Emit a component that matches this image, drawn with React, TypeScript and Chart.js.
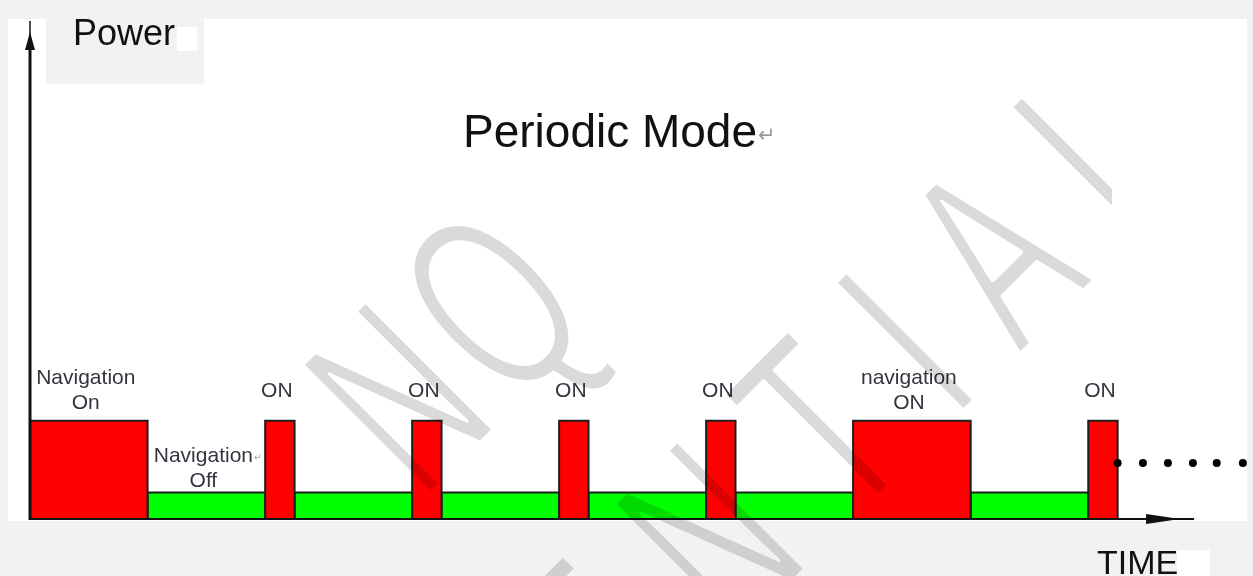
import React, { useEffect, useRef } from "react";
import { Chart, registerables } from "chart.js";

Chart.register(...registerables);

// ---- data ----
const segmentStates = ["on", "off", "on", "off", "on", "off", "on", "off", "on", "off", "on", "off", "on"];
const segmentDurations = [4, 4, 1, 4, 1, 4, 1, 4, 1, 4, 4, 4, 1];
const segmentLabels = [
  ["Navigation", "On"],
  ["Navigation↵", "Off"],
  ["ON"],
  [],
  ["ON"],
  [],
  ["ON"],
  [],
  ["ON"],
  [],
  ["navigation", "ON"],
  [],
  ["ON"],
];
const stateNames = ["on", "off"];
const statePower = [19.7, 5.3];
const stateColors = ["#ff0000", "#00ff00"];
const dotTimes = [37.0, 37.86, 38.71, 39.56, 40.37, 41.26];
const dotPower = [11.2, 11.2, 11.2, 11.2, 11.2, 11.2];
const timeAxisEnd = 39.6;
const timeMax = 41.4;
const powerMax = 100;
const titleText = "Periodic Mode↵";
const yAxisTitle = "Power";
const xAxisTitle = "TIME";

const FONT = '"Liberation Sans", Arial, sans-serif';

function buildSegments() {
  let t = 0;
  return segmentDurations.map((d, i) => {
    const si = stateNames.indexOf(segmentStates[i]);
    const seg = { start: t, end: t + d, power: statePower[si], color: stateColors[si], state: si, label: segmentLabels[i] };
    t += d;
    return seg;
  });
}

function drawTextWithMark(ctx: CanvasRenderingContext2D, text: string, x: number, y: number, size: number, color: string, align: "center" | "left") {
  const hasMark = text.endsWith("↵");
  const core = hasMark ? text.slice(0, -1) : text;
  ctx.font = `${size}px ${FONT}`;
  ctx.fillStyle = color;
  ctx.textAlign = align;
  ctx.textBaseline = "alphabetic";
  ctx.fillText(core, x, y);
  if (hasMark) {
    const w = ctx.measureText(core).width;
    const endX = align === "center" ? x + w / 2 : x + w;
    ctx.font = `${Math.round(size * 0.45)}px "DejaVu Sans", sans-serif`;
    ctx.fillStyle = "#9a9a9a";
    ctx.textAlign = "left";
    ctx.fillText("↵", endX + 1, y - size * 0.1);
  }
}

function drawWatermarkLine(ctx: CanvasRenderingContext2D, text: string, anchorIndex: number, baseSum: number, s: number, spacing: number) {
  const ax = (baseSum + s * Math.SQRT2) / 2;
  const ay = (baseSum - s * Math.SQRT2) / 2;
  const pass = (mode: "fill" | "thin") => {
    ctx.save();
    ctx.translate(ax, ay);
    ctx.rotate(-Math.PI / 4);
    ctx.scale(0.6, 1);
    ctx.font = `265px ${FONT}`;
    ctx.textAlign = "left";
    ctx.textBaseline = "alphabetic";
    if (mode === "thin") {
      ctx.globalCompositeOperation = "destination-out";
      ctx.lineWidth = 5;
      ctx.lineJoin = "round";
      ctx.strokeStyle = "#000";
    }
    let x = 0;
    for (let i = 0; i < anchorIndex; i++) x -= ctx.measureText(text[i]).width + spacing;
    for (const ch of text) {
      if (mode === "fill") ctx.fillText(ch, x, 0);
      else ctx.strokeText(ch, x, 0);
      x += ctx.measureText(ch).width + spacing;
    }
    ctx.restore();
  };
  pass("fill");
  pass("thin");
}

const decorPlugin = {
  id: "decor",
  beforeDraw(chart: any) {
    const ctx: CanvasRenderingContext2D = chart.ctx;
    ctx.save();
    ctx.fillStyle = "#f2f2f2";
    ctx.fillRect(0, 0, chart.width, chart.height);
    ctx.fillStyle = "#ffffff";
    ctx.fillRect(8, 19, 1239, 502);
    ctx.fillStyle = "#f2f2f2";
    ctx.fillRect(46, 19, 158, 65);
    ctx.restore();
  },
  afterDatasetsDraw(chart: any) {
    const ctx: CanvasRenderingContext2D = chart.ctx;
    const xs = chart.scales.x;
    const ys = chart.scales.y;
    const segs = buildSegments();
    ctx.save();

    // axes
    const x0 = xs.getPixelForValue(0);
    const y0 = ys.getPixelForValue(0);
    const yTop = ys.getPixelForValue(powerMax);
    const xEnd = xs.getPixelForValue(timeAxisEnd);
    ctx.strokeStyle = "#111";
    ctx.fillStyle = "#111";
    ctx.lineCap = "butt";
    ctx.lineWidth = 3;
    ctx.beginPath();
    ctx.moveTo(x0, y0 + 1);
    ctx.lineTo(x0, yTop + 28);
    ctx.stroke();
    ctx.lineWidth = 1.5;
    ctx.beginPath();
    ctx.moveTo(x0, yTop + 28);
    ctx.lineTo(x0, yTop + 1);
    ctx.stroke();
    ctx.beginPath();
    ctx.moveTo(x0, yTop + 12);
    ctx.lineTo(x0 - 5, yTop + 30);
    ctx.lineTo(x0 + 5, yTop + 30);
    ctx.closePath();
    ctx.fill();

    ctx.lineWidth = 2;
    ctx.beginPath();
    ctx.moveTo(x0, y0);
    ctx.lineTo(xEnd, y0);
    ctx.stroke();
    ctx.beginPath();
    ctx.moveTo(xEnd - 14, y0);
    ctx.lineTo(xEnd - 48, y0 - 5);
    ctx.lineTo(xEnd - 48, y0 + 5);
    ctx.closePath();
    ctx.fill();

    // segment labels
    const labelGap = [30, 24];
    segs.forEach((seg) => {
      const lines = seg.label;
      if (!lines.length) return;
      const cx = xs.getPixelForValue((seg.start + seg.end) / 2);
      const top = ys.getPixelForValue(seg.power);
      const center = top - labelGap[seg.state];
      lines.forEach((ln, j) => {
        const capCenter = center + (j - (lines.length - 1) / 2) * 25;
        drawTextWithMark(ctx, ln, cx - 3, capCenter + 6, 21, "#34343f", "center");
      });
    });

    // titles
    drawTextWithMark(ctx, titleText, 463, 147, 46, "#111", "left");
    drawTextWithMark(ctx, yAxisTitle, 73, 45, 36, "#111", "left");
    drawTextWithMark(ctx, xAxisTitle, 1097, 574, 34, "#111", "left");
    ctx.fillStyle = "#ffffff";
    ctx.fillRect(177, 27, 20, 24);
    ctx.fillRect(1177, 550, 33, 26);

    // watermark (rendered offscreen, thinned, then multiplied on top)
    const off = document.createElement("canvas");
    off.width = chart.width;
    off.height = chart.height;
    const octx = off.getContext("2d") as CanvasRenderingContext2D;
    octx.fillStyle = "#dadada";
    drawWatermarkLine(octx, "NQ", 0, 924, -57, 23);
    drawWatermarkLine(octx, "CONFIDENTIAL", 7, 1375, 65, 83);
    ctx.save();
    ctx.beginPath();
    ctx.rect(0, 0, 1112, chart.height);
    ctx.clip();
    ctx.globalCompositeOperation = "multiply";
    ctx.drawImage(off, 0, 0);
    ctx.restore();

    ctx.restore();
  },
};

export default function App() {
  const ref = useRef<HTMLCanvasElement>(null);
  useEffect(() => {
    const segs = buildSegments();
    const segDatasets = segs.map((seg) => ({
      type: "line" as const,
      data: [
        { x: seg.start, y: 0 },
        { x: seg.start, y: seg.power },
        { x: seg.end, y: seg.power },
        { x: seg.end, y: 0 },
      ],
      fill: "origin",
      backgroundColor: seg.color,
      borderColor: "#1e1e1e",
      borderWidth: 2,
      borderJoinStyle: "miter" as const,
      pointRadius: 0,
      tension: 0,
      clip: false as any,
      order: seg.state === 0 ? 1 : 2,
    }));
    const dotsDataset = {
      type: "line" as const,
      data: dotTimes.map((t, i) => ({ x: t, y: dotPower[i] })),
      showLine: false,
      pointRadius: 4,
      pointBackgroundColor: "#000",
      pointBorderColor: "#000",
      pointBorderWidth: 0,
      clip: false as any,
      order: 0,
    };
    const chart = new Chart(ref.current as HTMLCanvasElement, {
      type: "line",
      data: { datasets: [...segDatasets, dotsDataset] as any },
      options: {
        animation: false,
        responsive: false,
        devicePixelRatio: 1,
        events: [],
        layout: { padding: { left: 30, right: 6, top: 20, bottom: 57 } },
        scales: {
          x: { type: "linear", min: 0, max: timeMax, display: false },
          y: { type: "linear", min: 0, max: powerMax, display: false },
        },
        plugins: {
          legend: { display: false },
          tooltip: { enabled: false },
          title: { display: false },
        },
      },
      plugins: [decorPlugin],
    });
    return () => chart.destroy();
  }, []);
  return (
    <div style={{ position: "fixed", left: 0, top: 0, width: 1253, height: 576, background: "#f2f2f2" }}>
      <canvas ref={ref} width={1253} height={576} style={{ width: 1253, height: 576, display: "block" }} />
    </div>
  );
}
